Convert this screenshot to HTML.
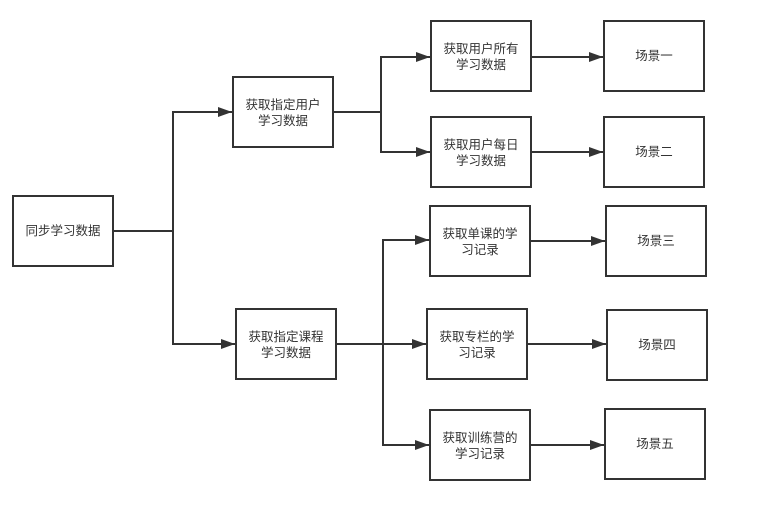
<!DOCTYPE html>
<html><head><meta charset="utf-8"><style>
html,body{margin:0;padding:0;background:#fff;}
svg text{font-family:"Liberation Sans","Noto Sans CJK SC",sans-serif;font-size:12.5px;fill:#333;text-anchor:middle;}
</style></head><body>
<svg width="759" height="503" viewBox="0 0 759 503" xmlns="http://www.w3.org/2000/svg">
<defs><marker id="a" markerWidth="14" markerHeight="10" refX="14" refY="5" orient="auto" markerUnits="userSpaceOnUse"><path d="M0,0 L14,5 L0,10 z" fill="#333"/></marker></defs>
<g fill="none" stroke="#333" stroke-width="2">
<path d="M113,231 H173 V112 H232" marker-end="url(#a)"/>
<path d="M173,231 V344 H235" marker-end="url(#a)"/>
<path d="M333,112 H381 V57 H430" marker-end="url(#a)"/>
<path d="M381,112 V152 H430" marker-end="url(#a)"/>
<path d="M336,344 H383 V240 H429" marker-end="url(#a)"/>
<path d="M383,344 H426" marker-end="url(#a)"/>
<path d="M383,344 V445 H429" marker-end="url(#a)"/>
<path d="M531,57 H603" marker-end="url(#a)"/>
<path d="M531,152 H603" marker-end="url(#a)"/>
<path d="M530,241 H605" marker-end="url(#a)"/>
<path d="M527,344 H606" marker-end="url(#a)"/>
<path d="M530,445 H604" marker-end="url(#a)"/>
</g>
<g fill="#fff" stroke="#333" stroke-width="2">
<rect x="13" y="196" width="100" height="70"/>
<rect x="233" y="77" width="100" height="70"/>
<rect x="236" y="309" width="100" height="70"/>
<rect x="431" y="21" width="100" height="70"/>
<rect x="431" y="117" width="100" height="70"/>
<rect x="430" y="206" width="100" height="70"/>
<rect x="427" y="309" width="100" height="70"/>
<rect x="430" y="410" width="100" height="70"/>
<rect x="604" y="21" width="100" height="70"/>
<rect x="604" y="117" width="100" height="70"/>
<rect x="606" y="206" width="100" height="70"/>
<rect x="607" y="310" width="100" height="70"/>
<rect x="605" y="409" width="100" height="70"/>
</g>
<text x="63" y="235">同步学习数据</text>
<text x="283" y="109">获取指定用户</text><text x="283" y="125">学习数据</text>
<text x="286" y="341">获取指定课程</text><text x="286" y="357">学习数据</text>
<text x="481" y="53">获取用户所有</text><text x="481" y="69">学习数据</text>
<text x="481" y="149">获取用户每日</text><text x="481" y="165">学习数据</text>
<text x="480" y="238">获取单课的学</text><text x="480" y="254">习记录</text>
<text x="477" y="341">获取专栏的学</text><text x="477" y="357">习记录</text>
<text x="480" y="442">获取训练营的</text><text x="480" y="458">学习记录</text>
<text x="654" y="60">场景一</text>
<text x="654" y="156">场景二</text>
<text x="656" y="245">场景三</text>
<text x="657" y="349">场景四</text>
<text x="655" y="448">场景五</text>
</svg>
</body></html>
